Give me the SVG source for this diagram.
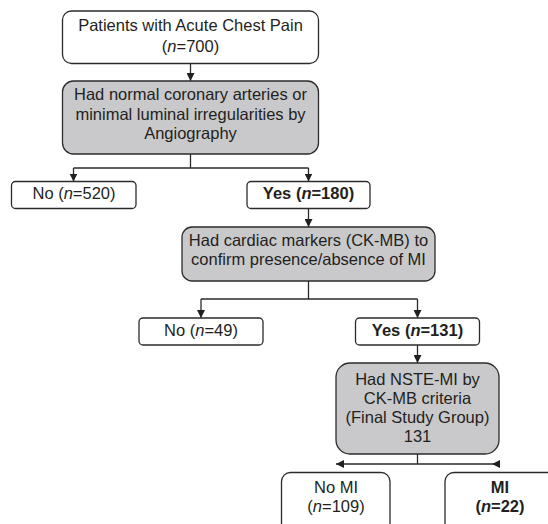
<svg xmlns="http://www.w3.org/2000/svg" width="548" height="524" viewBox="0 0 548 524">
<style>
.box{fill:#ffffff;stroke:#2b2b2b;stroke-width:1.3}
.grey{fill:#c9c9cb;stroke:#2b2b2b;stroke-width:1.3}
.t{font-family:"Liberation Sans",Arial,sans-serif;font-size:16.5px;fill:#231f20;text-anchor:middle}
.b{font-weight:bold}
.c{fill:none;stroke:#2b2b2b;stroke-width:1.3}
.ah{fill:#231f20}
</style>
<defs>
<marker id="arr" viewBox="0 0 10 10" refX="10" refY="5" markerUnits="userSpaceOnUse" markerWidth="8" markerHeight="8" orient="auto">
<path d="M0,0 L10,5 L0,10 z" class="ah"/>
</marker>
</defs>
<rect width="548" height="524" fill="#ffffff"/>
<g id="connectors">
<path class="c" d="M190.5,63.5 V81" marker-end="url(#arr)"/>
<path class="c" d="M190.5,154 V168 M73.5,168 H308.5"/>
<path class="c" d="M73.5,168 V181.5" marker-end="url(#arr)"/>
<path class="c" d="M308.5,168 V181.5" marker-end="url(#arr)"/>
<path class="c" d="M308.5,208.5 V227" marker-end="url(#arr)"/>
<path class="c" d="M308.5,281 V299 M201,299 H417.5"/>
<path class="c" d="M201,299 V318" marker-end="url(#arr)"/>
<path class="c" d="M417.5,299 V318" marker-end="url(#arr)"/>
<path class="c" d="M417.5,345 V363" marker-end="url(#arr)"/>
<path class="c" d="M417.5,454 V464 M336,464 H500"/>
<polygon class="ah" points="336,464 344,460 344,468"/>
<polygon class="ah" points="492,464 500,460 500,468"/>
</g>
<g id="n1">
<rect class="box" x="62.5" y="11" width="256" height="52.5" rx="9"/>
<text class="t" x="190.5" y="31">Patients with Acute Chest Pain</text>
<text class="t" x="190.5" y="51.5">(<tspan font-style="italic">n</tspan>=700)</text>
</g>
<g id="n2">
<rect class="grey" x="62.5" y="81" width="256" height="73" rx="11"/>
<text class="t" x="190.5" y="100">Had normal coronary arteries or</text>
<text class="t" x="190.5" y="119.5">minimal luminal irregularities by</text>
<text class="t" x="190.5" y="139">Angiography</text>
</g>
<g id="n3">
<rect class="box" x="11.5" y="181.5" width="124.5" height="27" rx="4"/>
<text class="t" x="74" y="198.5">No (<tspan font-style="italic">n</tspan>=520)</text>
</g>
<g id="n4">
<rect class="box" x="247" y="181.5" width="123" height="27" rx="4"/>
<text class="t b" x="308.5" y="198.5">Yes (<tspan font-style="italic">n</tspan>=180)</text>
</g>
<g id="n5">
<rect class="grey" x="182" y="227" width="253" height="54" rx="10"/>
<text class="t" x="308.5" y="245.5">Had cardiac markers (CK-MB) to</text>
<text class="t" x="308.5" y="264.5">confirm presence/absence of MI</text>
</g>
<g id="n6">
<rect class="box" x="139" y="318" width="124" height="27" rx="4"/>
<text class="t" x="201" y="335.5">No (<tspan font-style="italic">n</tspan>=49)</text>
</g>
<g id="n7">
<rect class="box" x="355.5" y="318" width="124" height="27" rx="4"/>
<text class="t b" x="417.5" y="335.5">Yes (<tspan font-style="italic">n</tspan>=131)</text>
</g>
<g id="n8">
<rect class="grey" x="336" y="363" width="163" height="91" rx="14"/>
<text class="t" x="417.5" y="384.5">Had NSTE-MI by</text>
<text class="t" x="417.5" y="403.5">CK-MB criteria</text>
<text class="t" x="417.5" y="422.5">(Final Study Group)</text>
<text class="t" x="417.5" y="441.5">131</text>
</g>
<g id="n9">
<rect class="box" x="281.5" y="472.5" width="108.5" height="70" rx="9"/>
<text class="t" x="336" y="492.5">No MI</text>
<text class="t" x="336" y="512">(<tspan font-style="italic">n</tspan>=109)</text>
</g>
<g id="n10">
<rect class="box" x="445" y="472.5" width="120" height="70" rx="9"/>
<text class="t b" x="500" y="492.5">MI</text>
<text class="t b" x="500" y="512">(<tspan font-style="italic">n</tspan>=22)</text>
</g>
</svg>
